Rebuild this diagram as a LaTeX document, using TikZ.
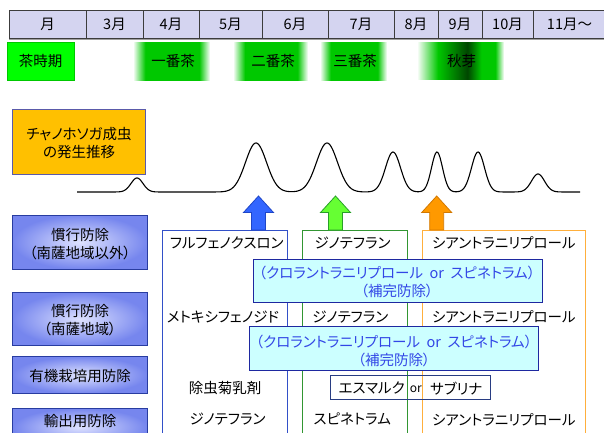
\documentclass[tikz,border=0pt]{standalone}
\usepackage{fontspec}
\setmainfont[RawFeature=+palt]{Noto Sans CJK JP}
\definecolor{hdrfill}{RGB}{212,212,240}
\definecolor{hdrline}{RGB}{60,60,60}
\definecolor{teabright}{RGB}{0,255,0}
\definecolor{teaborder}{RGB}{0,200,0}
\definecolor{teagreen}{RGB}{0,200,0}
\definecolor{teadark}{RGB}{0,70,0}
\definecolor{orangebox}{RGB}{255,192,0}
\definecolor{orangeborder}{RGB}{90,90,170}
\definecolor{lblinner}{RGB}{222,226,255}
\definecolor{lblouter}{RGB}{118,134,238}
\definecolor{lblborder}{RGB}{40,60,160}
\definecolor{blueAf}{RGB}{51,102,255}
\definecolor{blueAd}{RGB}{30,70,200}
\definecolor{greenAf}{RGB}{102,255,51}
\definecolor{greenAd}{RGB}{40,160,40}
\definecolor{orangeAf}{RGB}{255,153,0}
\definecolor{orangeAd}{RGB}{210,120,0}
\definecolor{colblue}{RGB}{50,80,200}
\definecolor{colgreen}{RGB}{50,150,50}
\definecolor{colorange}{RGB}{255,175,60}
\definecolor{cyanfill}{RGB}{204,255,255}
\definecolor{cyanborder}{RGB}{30,40,160}
\definecolor{cyantext}{RGB}{50,70,230}
\definecolor{esmborder}{RGB}{40,60,130}
\pgfdeclarehorizontalshading{teafade}{100bp}{color(0bp)=(white); color(25bp)=(white); color(33bp)=(teagreen); color(68bp)=(teagreen); color(75bp)=(white); color(100bp)=(white)}
\pgfdeclarehorizontalshading{akifade}{100bp}{color(0bp)=(white); color(25bp)=(white); color(37bp)=(teagreen); color(54bp)=(teadark); color(62bp)=(teagreen); color(70bp)=(teagreen); color(75bp)=(white); color(100bp)=(white)}
\tikzset{
  txt/.style={inner sep=0pt, font=\fontsize{14.5}{18}\selectfont},
  hdr/.style={fill=hdrfill, draw=hdrline, line width=0.8pt},
  lbl/.style={inner color=lblinner, outer color=lblouter, draw=lblborder, line width=0.8pt},
  colbox/.style={line width=0.9pt},
  cyanbox/.style={fill=cyanfill, draw=cyanborder, line width=0.9pt},
  uparrow/.pic={\draw[pic actions, line width=0.8pt] (0,0) -- (15,16.5) -- (7,16.5) -- (7,34) -- (-7,34) -- (-7,16.5) -- (-15,16.5) -- cycle;}
}
\begin{document}
\begin{tikzpicture}[x=1pt, y=-1pt]
\useasboundingbox (0,0) rectangle (604,432);
% header
\fill[gray!75] (9,37) rectangle (606,40);
\foreach \a/\b/\t [count=\i] in {9/86/月, 86/143/3月, 143/199/4月, 199/262/5月, 262/328/6月, 328/394/7月, 394/438/8月, 438/482/9月, 482/533/10月, 533/606/11月～}{
  \draw[hdr] (\a,10) rectangle (\b,38);
  \node[txt] (h\i) at ({(\a+\b)/2},24) {\t};
}
% tea periods
\draw[fill=teabright, draw=teaborder] (7,42) rectangle (74,80);
\node[txt] (cha) at (40.5,61) {茶時期};
\shade[shading=teafade] (133,42) rectangle (210,80);
\node[txt] (t1) at (173,61) {一番茶};
\shade[shading=teafade] (233,42) rectangle (308,80);
\node[txt] (t2) at (273,61) {二番茶};
\shade[shading=teafade] (320,42) rectangle (387,80);
\node[txt] (t3) at (355,61) {三番茶};
\shade[shading=akifade] (417,42) rectangle (504,79);
\node[txt] (t4) at (461.5,61) {秋芽};
% moth box
\draw[fill=orangebox, draw=orangeborder, line width=0.8pt] (12.7,109) rectangle (145,174);
\node[txt, align=center] (moth) at (79,143) {チャノホソガ成虫\\の発生推移};
% curve
\draw[line width=1.1pt] plot[domain=77:580, samples=450] (\x, {192
 - 14*exp(-min(((\x-137)/6)^2/2,9))
 - 49*exp(-min(((\x-256)/10.5)^2/2,9))
 - 49*exp(-min(((\x-327)/10.5)^2/2,9))
 - 40*exp(-min(((\x-393)/7.5)^2/2,9))
 - 40*exp(-min(((\x-437)/5.5)^2/2,9))
 - 40*exp(-min(((\x-478)/6.5)^2/2,9))
 - 18*exp(-min(((\x-538)/6.5)^2/2,9))});
% left label boxes
\shade[lbl] (12.7,215) rectangle (147.3,269);
\node[txt, align=center] (l1) at (80,244) {慣行防除\\（南薩地域以外）};
\shade[lbl] (12.7,292.7) rectangle (147.3,345.7);
\node[txt, align=center] (l2) at (80,320.5) {慣行防除\\（南薩地域）};
\shade[lbl] (12.7,356.7) rectangle (147.3,393.3);
\node[txt] (l3) at (80,376) {有機栽培用防除};
\shade[lbl] (12.7,408.3) rectangle (147.3,446);
\node[txt] (l4) at (80,421.5) {輸出用防除};
% column boxes
\draw[colbox, draw=colblue] (162.3,440) -- (162.3,230) -- (287.3,230) -- (287.3,440);
\draw[colbox, draw=colgreen] (302,440) -- (302,230) -- (407.7,230) -- (407.7,440);
\draw[colbox, draw=colorange] (422.3,440) -- (422.3,230) -- (585.7,230) -- (585.7,440);
% arrows
\pic[fill=blueAf, draw=blueAd] at (258.5,196) {uparrow};
\pic[fill=greenAf, draw=greenAd] at (335.5,196) {uparrow};
\pic[fill=orangeAf, draw=orangeAd] at (436.7,196) {uparrow};
% row 1
\node[txt] (r1a) at (226.7,243) {フルフェノクスロン};
\node[txt] (r1b) at (352.5,243) {ジノテフラン};
\node[txt] (r1c) at (503.8,243) {シアントラニリプロール};
% cyan box 1
\draw[cyanbox] (253.3,259.3) rectangle (542.7,302.3);
\node[txt, text=cyantext, align=center] (c1) at (397,282) {（クロラントラニリプロール\hspace{0.45em}or\hspace{0.45em}スピネトラム）\\（補完防除）};
% row 2
\node[txt] (r2a) at (223,316.7) {メトキシフェノジド};
\node[txt] (r2b) at (350.3,316.7) {ジノテフラン};
\node[txt] (r2c) at (503.8,316.7) {シアントラニリプロール};
% cyan box 2
\draw[cyanbox] (249,326.7) rectangle (538.3,370);
\node[txt, text=cyantext, align=center] (c2) at (394,350.5) {（クロラントラニリプロール\hspace{0.45em}or\hspace{0.45em}スピネトラム）\\（補完防除）};
% row 3
\node[txt] (r3a) at (225,388.3) {除虫菊乳剤};
\draw[draw=esmborder, line width=0.9pt] (330.3,375) rectangle (490.3,399.3);
\node[txt] (e1) at (371.7,388.3) {エスマルク};
\node[txt, font=\fontsize{12}{14}\selectfont] (e2) at (415.8,389) {or};
\node[txt] (e3) at (456.3,388.3) {サブリナ};
% row 4
\node[txt] (r4a) at (227.5,419.3) {ジノテフラン};
\node[txt] (r4b) at (352.3,419.3) {スピネトラム};
\node[txt] (r4c) at (503.8,419.3) {シアントラニリプロール};
\end{tikzpicture}
\end{document}
